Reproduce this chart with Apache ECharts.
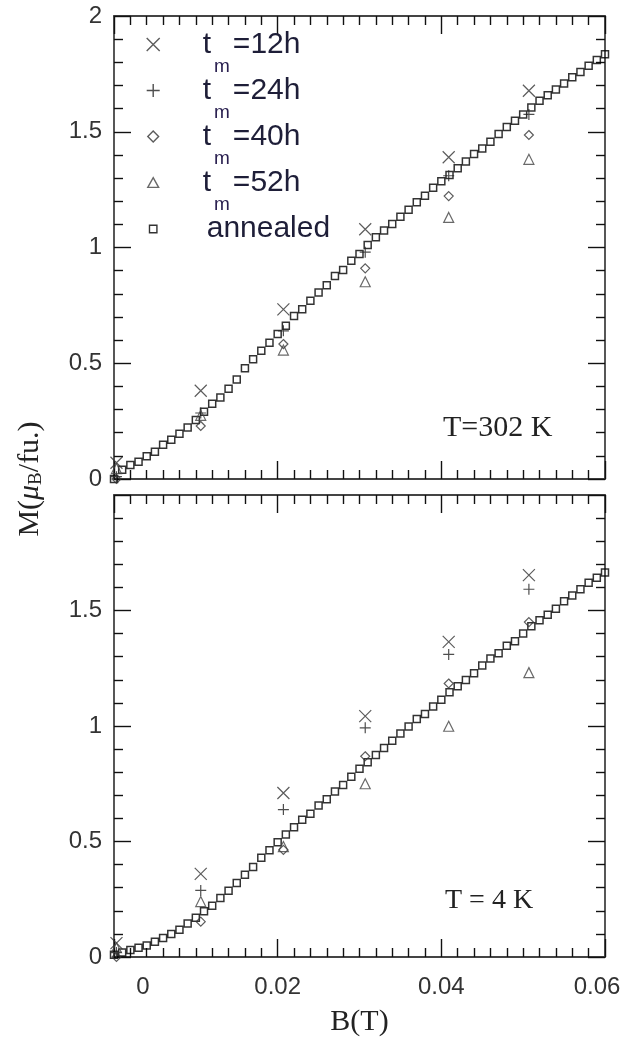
<!DOCTYPE html>
<html>
<head>
<meta charset="utf-8">
<script src="https://cdn.jsdelivr.net/npm/echarts@6/dist/echarts.min.js"></script>
<style>
html,body{margin:0;padding:0;background:#fff;}
#chart{width:633px;height:1040px;}
</style>
</head>
<body>
<div id="chart"></div>
<script>
// ---------- data ----------
const fieldB = [0.000,0.001,0.002,0.003,0.004,0.005,0.006,0.007,0.008,0.009,
  0.010,0.011,0.012,0.013,0.014,0.015,0.016,0.017,0.018,0.019,
  0.020,0.021,0.022,0.023,0.024,0.025,0.026,0.027,0.028,0.029,
  0.030,0.031,0.032,0.033,0.034,0.035,0.036,0.037,0.038,0.039,
  0.040,0.041,0.042,0.043,0.044,0.045,0.046,0.047,0.048,0.049,
  0.050,0.051,0.052,0.053,0.054,0.055,0.056,0.057,0.058,0.059,0.060];

const annealedTop = [0.00,0.04,0.06,0.075,0.098,0.118,0.148,0.17,0.196,0.223,
  0.255,0.29,0.325,0.352,0.39,0.43,0.478,0.517,0.554,0.589,
  0.626,0.662,0.704,0.733,0.77,0.806,0.837,0.877,0.903,0.943,
  0.972,1.011,1.044,1.073,1.101,1.133,1.163,1.196,1.224,1.258,
  1.286,1.313,1.342,1.371,1.404,1.428,1.457,1.49,1.52,1.547,
  1.575,1.605,1.634,1.658,1.682,1.708,1.735,1.758,1.785,1.81,1.835];

const annealedBottom = [0.01,0.02,0.03,0.04,0.05,0.066,0.082,0.1,0.118,0.145,
  0.17,0.198,0.222,0.255,0.287,0.32,0.356,0.39,0.43,0.462,
  0.497,0.53,0.562,0.594,0.62,0.656,0.683,0.716,0.745,0.78,
  0.815,0.843,0.875,0.905,0.936,0.967,0.998,1.03,1.052,1.084,
  1.114,1.146,1.172,1.199,1.228,1.262,1.292,1.315,1.347,1.367,
  1.4,1.432,1.458,1.482,1.508,1.54,1.565,1.592,1.62,1.642,1.665];

const sampleB = [0.0003, 0.0106, 0.0207, 0.0307, 0.0409, 0.0507];

const top12h = [0.07, 0.381, 0.733, 1.079, 1.390, 1.677];
const top24h = [0.01, 0.285, 0.64, 0.98, 1.31, 1.575];
const top40h = [0.0, 0.229, 0.583, 0.910, 1.222, 1.486];
const top52h = [0.045, 0.275, 0.557, 0.852, 1.130, 1.381];

const bot12h = [0.06, 0.36, 0.71, 1.043, 1.364, 1.653];
const bot24h = [0.02, 0.288, 0.638, 0.992, 1.31, 1.592];
const bot40h = [0.0, 0.153, 0.464, 0.869, 1.184, 1.45];
const bot52h = [0.04, 0.24, 0.478, 0.75, 0.999, 1.231];

const seriesNames = ['tm=12h', 'tm=24h', 'tm=40h', 'tm=52h', 'annealed'];
const panelLabels = ['T=302 K', 'T = 4 K'];
const xTitle = 'B(T)';

// ---------- styling ----------
const SANS = '"Liberation Sans", Arial, sans-serif';
const SERIF = '"Liberation Serif", "Times New Roman", serif';
const INK = '#222';

const sym = {
  cross: 'path://M0,0L10,10M10,0L0,10',
  plus: 'path://M5,0L5,10M0,5L10,5',
  diamond: 'path://M5,0L10,5L5,10L0,5Z',
  triangle: 'path://M5,0L10,9L0,9Z',
  square: 'path://M0,0L10,0L10,10L0,10Z'
};
const legendIcon = {
  cross: 'path://M0,0L10,10M10,0L0,10',
  plus: 'path://M5,0L5,10M0,5L10,5',
  diamond: 'path://M0,0M6,1L11,6L6,11L1,6ZM12,12',
  triangle: 'path://M0,0M6,1.5L11,10.5L1,10.5ZM12,12',
  square: 'path://M0,0M3,3L11,3L11,11L3,11ZM14,14'
};
const symKeys = ['cross', 'plus', 'diamond', 'triangle', 'square'];
const symSizes = [12, 11, 9, 10, 7];
const symColors = ['#333', '#222', '#333', '#444', '#000'];

function pairs(xs, ys) { return xs.map((x, i) => [x, ys[i]]); }

const panelData = [
  [top12h, top24h, top40h, top52h],
  [bot12h, bot24h, bot40h, bot52h]
];
const annealed = [annealedTop, annealedBottom];

const series = [];
[0, 1].forEach(function (p) {
  for (let k = 0; k < 5; k++) {
    const data = k < 4 ? pairs(sampleB, panelData[p][k]) : pairs(fieldB, annealed[p]);
    series.push({
      type: 'scatter',
      name: seriesNames[k],
      xAxisIndex: p * 2,
      yAxisIndex: p * 2,
      symbol: sym[symKeys[k]],
      symbolSize: symSizes[k],
      clip: false,
      z: k === 4 ? 2 : 3,
      itemStyle: { color: 'rgba(0,0,0,0)', borderColor: symColors[k], borderWidth: k === 4 ? 1.5 : 1.2 },
      emphasis: { disabled: true },
      data: data
    });
  }
});

const axisLineStyle = { color: '#444', width: 1.8 };
const tickStyle = { color: '#111', width: 1.4 };

function xAxisDef(gridIndex, position, showLabel) {
  return {
    type: 'value', gridIndex: gridIndex, position: position,
    min: 0, max: 0.06, interval: 0.02,
    axisLine: { show: true, onZero: false, lineStyle: axisLineStyle },
    axisTick: { show: true, inside: true, length: 18, lineStyle: tickStyle },
    minorTick: { show: true, splitNumber: 10, length: 9, lineStyle: tickStyle },
    splitLine: { show: false },
    minorSplitLine: { show: false },
    axisLabel: {
      show: showLabel, margin: 18, fontFamily: SANS, fontSize: 24, color: '#333',
      formatter: function (v) {
        if (Math.abs(v) < 1e-9) return '{z|0}';
        if (Math.abs(v - 0.06) < 1e-9) return '{r|0.06}';
        return String(Math.round(v * 100) / 100);
      },
      rich: {
        z: { padding: [0, 0, 0, 58], fontFamily: SANS, fontSize: 24, color: '#333' },
        r: { padding: [0, 16, 0, 0], fontFamily: SANS, fontSize: 24, color: '#333' }
      }
    }
  };
}
function yAxisDef(gridIndex, position, showLabel, showMax) {
  return {
    type: 'value', gridIndex: gridIndex, position: position,
    min: 0, max: 2, interval: 0.5,
    axisLine: { show: true, onZero: false, lineStyle: axisLineStyle },
    axisTick: { show: true, inside: true, length: 17, lineStyle: tickStyle },
    minorTick: { show: true, splitNumber: 5, length: 9, lineStyle: tickStyle },
    splitLine: { show: false },
    minorSplitLine: { show: false },
    axisLabel: { show: showLabel, showMaxLabel: showMax, margin: 12, fontFamily: SANS, fontSize: 24, color: '#333' }
  };
}

const option = {
  backgroundColor: '#fff',
  animation: false,
  grid: [
    { left: 114, top: 16, width: 491, height: 463, containLabel: false },
    { left: 114, top: 495, width: 491, height: 462, containLabel: false }
  ],
  xAxis: [
    xAxisDef(0, 'bottom', false),
    xAxisDef(0, 'top', false),
    Object.assign(xAxisDef(1, 'bottom', true), {
      name: xTitle, nameLocation: 'middle', nameGap: 50,
      nameTextStyle: { fontFamily: SERIF, fontSize: 30, color: INK }
    }),
    xAxisDef(1, 'top', false)
  ],
  yAxis: [
    yAxisDef(0, 'left', true, true),
    yAxisDef(0, 'right', false, true),
    yAxisDef(1, 'left', true, false),
    yAxisDef(1, 'right', false, true)
  ],
  legend: {
    orient: 'vertical',
    left: 141, top: 8,
    itemWidth: 13, itemHeight: 13,
    itemGap: -17,
    selectedMode: false,
    data: seriesNames.map(function (n, k) {
      return {
        name: n, icon: legendIcon[symKeys[k]],
        itemStyle: { color: 'rgba(0,0,0,0)', borderColor: symColors[k], borderWidth: 1.4 }
      };
    }),
    formatter: function (name) {
      if (name === 'annealed') return '{a|annealed}';
      return '{t|t}{m|m}{e|' + name.slice(2) + '}';
    },
    textStyle: {
      fontFamily: SANS, fontSize: 30, color: '#1e1e38',
      rich: {
        t: { fontFamily: SANS, fontSize: 30, lineHeight: 30, color: '#1e1e38', padding: [0, 0, 0, 38], verticalAlign: 'middle' },
        m: { fontFamily: SANS, fontSize: 19, lineHeight: 20, color: '#2a2050', padding: [44, 3, 0, 3], verticalAlign: 'middle' },
        e: { fontFamily: SANS, fontSize: 30, lineHeight: 30, color: '#1e1e38', verticalAlign: 'middle' },
        a: { fontFamily: SANS, fontSize: 30, lineHeight: 30, color: '#1e1e38', padding: [17, 0, 17, 42], verticalAlign: 'middle' }
      }
    }
  },
  graphic: [
    {
      type: 'text', x: 30, y: 479, rotation: Math.PI / 2,
      style: {
        text: '{n|M(}{mu|μ}{s|B}{n|/fu.)}',
        align: 'center', verticalAlign: 'middle', fill: INK,
        rich: {
          n: { fontFamily: SERIF, fontSize: 30, fill: INK },
          mu: { fontFamily: SERIF, fontSize: 30, fontStyle: 'italic', fill: INK },
          s: { fontFamily: SERIF, fontSize: 19, fill: INK, padding: [12, 0, 0, 0] }
        }
      }
    },
    {
      type: 'text', x: 443, y: 428,
      style: { text: panelLabels[0], fontFamily: SERIF, fontSize: 30, fill: INK, verticalAlign: 'middle' }
    },
    {
      type: 'text', x: 445, y: 901,
      style: { text: panelLabels[1], fontFamily: SERIF, fontSize: 28, fill: INK, verticalAlign: 'middle' }
    }
  ],
  series: series
};

const chart = echarts.init(document.getElementById('chart'), null, { renderer: 'canvas' });
chart.setOption(option);
</script>
</body>
</html>
